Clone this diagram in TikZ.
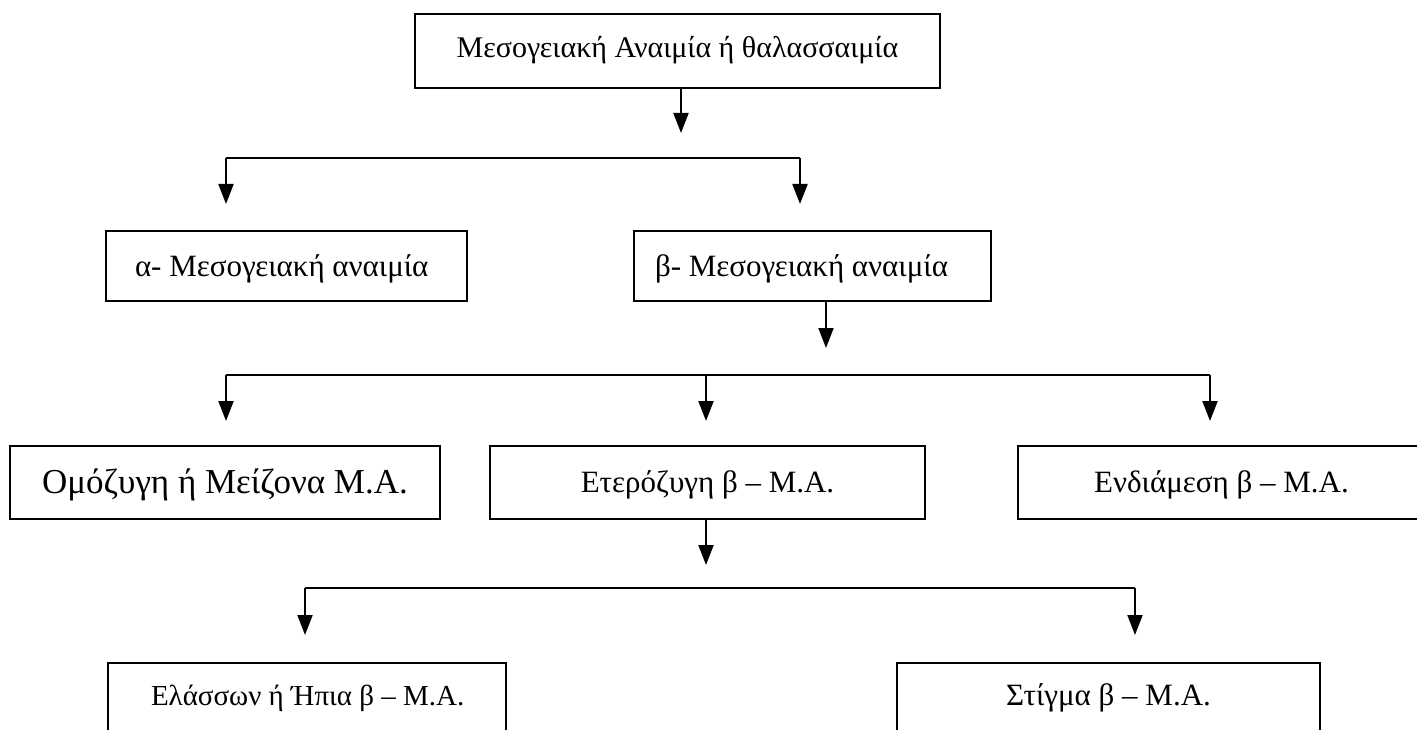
\documentclass[tikz,border=0pt]{standalone}
\usepackage{fontspec}
\setmainfont{Liberation Serif}
\usetikzlibrary{arrows.meta}
\begin{document}
\begin{tikzpicture}[x=1pt,y=-1pt,
  box/.style={draw,line width=2pt,inner sep=0pt,anchor=north,font=\fontsize{31}{37}\selectfont},
  lbox/.style={box,anchor=north west},
  conn/.style={line width=2pt},
  arr/.style={line width=2pt,-{Triangle[width=15pt,length=20pt]}}]
\useasboundingbox (0,0) rectangle (1417,730);
\clip (0,0) rectangle (1417,730);
% boxes
\node[box,minimum width=525pt,text height=44pt,text depth=30pt,font=\fontsize{30}{36}\selectfont] (top) at (677.5,13) {Μεσογειακή Αναιμία ή θαλασσαιμία};
\node[lbox,inner xsep=29pt,text height=45.3pt,text depth=24.7pt] (alpha) at (105,230) {\makebox[303pt][l]{α- Μεσογειακή αναιμία}};
\node[lbox,inner xsep=21pt,text height=45.3pt,text depth=24.7pt] (beta) at (633,230) {\makebox[315pt][l]{β- Μεσογειακή αναιμία}};
\node[box,minimum width=430pt,text height=47pt,text depth=26pt,font=\fontsize{35}{42}\selectfont] (homo) at (225,445) {Ομόζυγη ή Μείζονα Μ.Α.};
\node[box,minimum width=435pt,text height=46.5pt,text depth=26.5pt] (hetero) at (707.5,445) {Ετερόζυγη β – Μ.Α.};
\node[box,minimum width=407pt,text height=46.5pt,text depth=26.5pt] (inter) at (1221.5,445) {Ενδιάμεση β – Μ.Α.};
\node[lbox,inner xsep=43pt,text height=42pt,text depth=60pt,font=\fontsize{29}{35}\selectfont] (minor) at (107,662) {\makebox[312pt][l]{Ελάσσων ή Ήπια β – Μ.Α.}};
\node[box,minimum width=423pt,text height=42.3pt,text depth=60pt] (trait) at (1108.5,662) {Στίγμα β – Μ.Α.};
% level 1
\coordinate (t1) at (681,133);
\draw[arr] (top.south -| t1) -- (t1);
\coordinate (b1l) at (226,158);
\coordinate (b1r) at (800,158);
\coordinate (a1) at (226,204);
\coordinate (a2) at (800,204);
\draw[conn] (b1l) -- (b1r);
\draw[arr] (b1l) -- (a1);
\draw[arr] (b1r) -- (a2);
% level 2
\coordinate (t2) at (826,348);
\draw[arr] (beta.south -| t2) -- (t2);
\coordinate (b2l) at (226,375);
\coordinate (b2m) at (706,375);
\coordinate (b2r) at (1210,375);
\coordinate (a3) at (226,421);
\coordinate (a4) at (706,421);
\coordinate (a5) at (1210,421);
\draw[conn] (b2l) -- (b2r);
\draw[arr] (b2l) -- (a3);
\draw[arr] (b2m) -- (a4);
\draw[arr] (b2r) -- (a5);
% level 3
\coordinate (t3) at (706,565);
\draw[arr] (hetero.south -| t3) -- (t3);
\coordinate (b3l) at (305,588);
\coordinate (b3r) at (1135,588);
\coordinate (a6) at (305,635);
\coordinate (a7) at (1135,635);
\draw[conn] (b3l) -- (b3r);
\draw[arr] (b3l) -- (a6);
\draw[arr] (b3r) -- (a7);
\end{tikzpicture}
\end{document}
